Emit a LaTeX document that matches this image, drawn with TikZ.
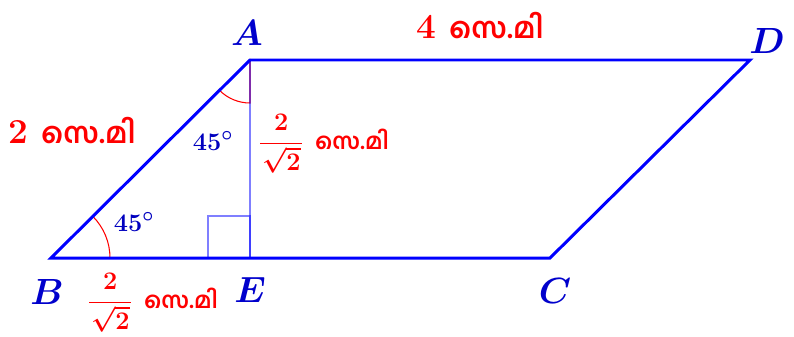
\documentclass[tikz,border=0pt]{standalone}
\usepackage{amsmath}
\usepackage{fontspec}
\newfontfamily\malfont[Script=Malayalam]{Hind Kochi}
\usetikzlibrary{positioning}

\newcommand{\bigunit}{{\fontsize{16.4}{19}\selectfont\malfont സെ.മി}}
\newcommand{\smallunit}{{\fontsize{12.8}{15}\selectfont\malfont സെ.മി}}
\newcommand{\halfroot}{$\dfrac{2}{\mkern1mu\sqrt{2}\mkern1mu}$}

\begin{document}
\begin{tikzpicture}[x=0.02cm, y=0.02cm,
    side/.style={blue, line width=1.7pt, line join=miter},
    helper/.style={blue, opacity=0.5, line width=0.6pt},
    anglemark/.style={red, line width=0.6pt},
    vertex/.style={text=blue!80!black, font=\fontsize{19.5}{23}\selectfont\boldmath},
    measure/.style={text=red, font=\fontsize{20}{23}\selectfont\bfseries},
    smallmeasure/.style={text=red, font=\fontsize{15.5}{18}\selectfont\boldmath\bfseries, inner sep=0pt},
    degree/.style={text=blue!75!black, font=\fontsize{15.5}{18}\selectfont\boldmath},
]

\useasboundingbox (0,0) rectangle (794,336);

% Corners
\coordinate (A) at (250,276);
\coordinate (B) at (51,78);
\coordinate (C) at (550,78);
\coordinate (D) at (750,276);
\coordinate (E) at (250,78);

% Angle marks
\draw[anglemark] (B) -- ++(0:59) arc[start angle=0, end angle=45, radius=59] -- cycle;
\draw[anglemark] (A) -- ++(225:43) arc[start angle=225, end angle=270, radius=43] -- cycle;

% Height and right angle
\draw[helper] (A) -- (E);
\draw[helper] (E) rectangle ++(-42,42);

% Parallelogram
\draw[side] (A) -- (D) -- (C) -- (B) -- cycle;

% Vertex labels
\node[vertex] (lA) at (247,303) {$A$};
\node[vertex] (lD) at (767,295) {$D$};
\node[vertex] (lB) at (47,44) {$B$};
\node[vertex] (lE) at (250,46) {$E$};
\node[vertex] (lC) at (555,45) {$C$};

% Lengths
\node[measure] (lAD) at (480,310) {4 \bigunit};
\node[measure] (lAB) at (72,205) {2 \bigunit};
\node[smallmeasure, anchor=west] (lAE) at (258,192) {\halfroot\hspace{0.4em}\smallunit};
\node[smallmeasure, anchor=west] (lBE) at (87,33) {\halfroot\hspace{0.4em}\smallunit};

% Angles
\node[degree] (angA) at (213,195) {$45^\circ$};
\node[degree] (angB) at (134,114) {$45^\circ$};

\end{tikzpicture}
\end{document}
